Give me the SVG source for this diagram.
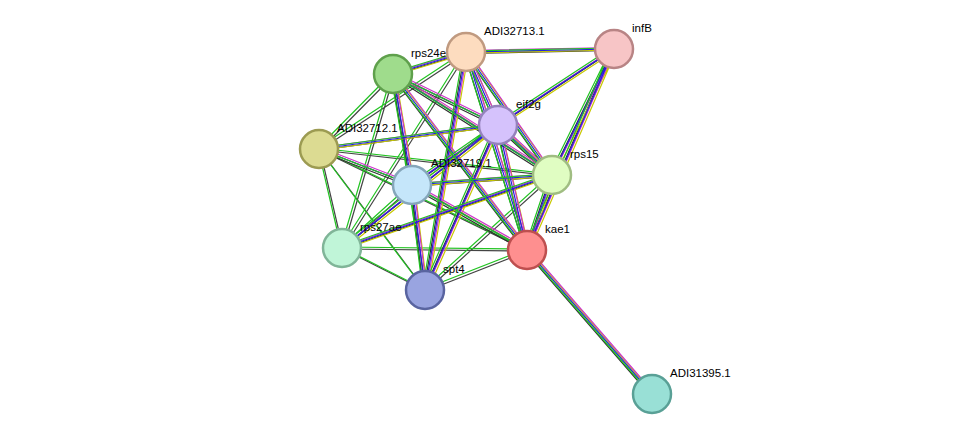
<svg xmlns="http://www.w3.org/2000/svg" xmlns:xlink="http://www.w3.org/1999/xlink" width="975" height="440" viewBox="0 0 975 440">
<style>
.n{stroke-width:2.5}
.t{font-family:"Liberation Sans",Arial,sans-serif;font-size:11.5px;fill:#000}
.e{fill:none;stroke-width:1.2}
</style>
<defs>
<path id="D" d="M393,74L466,52M393,74L498,125M393,74L552,175M393,74L527,250M466,52L498,125M466,52L552,175M466,52L527,250M466,52L614,49M614,49L498,125M614,49L552,175M614,49L527,250M498,125L552,175M498,125L527,250M498,125L412,185M498,125L319,149M552,175L527,250M412,185L425,290M412,185L552,175M412,185L527,250M319,149L412,185M393,74L412,185M527,250L652,394M425,290L466,52M425,290L498,125M342,248L552,175M342,248L498,125"/>
<path id="S" d="M319,149L393,74M319,149L342,248M319,149L425,290M319,149L527,250M319,149L552,175M342,248L425,290M342,248L527,250M342,248L412,185M425,290L527,250M393,74L425,290M393,74L342,248M425,290L552,175M342,248L466,52M319,149L466,52"/>
</defs>
<rect width="975" height="440" fill="#fff"/>
<g id="connectors">
<use xlink:href="#S" class="e" stroke="#444444" transform="translate(1,1)"/>
<use xlink:href="#S" class="e" stroke="#22c322" transform="translate(-1,-1)"/>
<use xlink:href="#D" class="e" stroke="#333333" transform="translate(-1.5,1.5)"/>
<use xlink:href="#D" class="e" stroke="#c8c800" transform="translate(2.5,1)"/>
<use xlink:href="#D" class="e" stroke="#cc33cc" transform="translate(1.5,-1.5)"/>
<use xlink:href="#D" class="e" stroke="#2222dd" transform="translate(0,0)"/>
<use xlink:href="#D" class="e" stroke="#22c322" transform="translate(-2.5,-1)"/>
</g>
<g id="rps24e"><circle class="n" cx="393" cy="74" r="19" fill="#9fdc8c" stroke="#5fa04c"/><text class="t" x="411" y="57">rps24e</text></g>
<g id="ADI32713.1"><circle class="n" cx="466" cy="52" r="19" fill="#fddcbf" stroke="#c09a80"/><text class="t" x="484" y="35">ADI32713.1</text></g>
<g id="infB"><circle class="n" cx="614" cy="49" r="19" fill="#f7c5c6" stroke="#b88485"/><text class="t" x="632" y="32">infB</text></g>
<g id="eif2g"><circle class="n" cx="498" cy="125" r="19" fill="#d5c2fc" stroke="#9582bc"/><text class="t" x="516" y="108">eif2g</text></g>
<g id="ADI32712.1"><circle class="n" cx="319" cy="149" r="19" fill="#dcdb92" stroke="#9c9b52"/><text class="t" x="337" y="132">ADI32712.1</text></g>
<g id="ADI32719.1"><circle class="n" cx="412" cy="185" r="19" fill="#c5e6fa" stroke="#85a6ba"/><text class="t" x="431" y="167">ADI32719.1</text></g>
<g id="rps15"><circle class="n" cx="552" cy="175" r="19" fill="#e0fdc2" stroke="#a0bd82"/><text class="t" x="570" y="158">rps15</text></g>
<g id="rps27ae"><circle class="n" cx="342" cy="248" r="19" fill="#c0f5d8" stroke="#80b598"/><text class="t" x="360" y="231">rps27ae</text></g>
<g id="kae1"><circle class="n" cx="527" cy="250" r="19" fill="#fe8f8f" stroke="#be4f4f"/><text class="t" x="545" y="233">kae1</text></g>
<g id="spt4"><circle class="n" cx="425" cy="290" r="19" fill="#99a4e0" stroke="#5964a0"/><text class="t" x="443" y="273">spt4</text></g>
<g id="ADI31395.1"><circle class="n" cx="652" cy="394" r="19" fill="#99e0d6" stroke="#59a096"/><text class="t" x="670" y="377">ADI31395.1</text></g>
</svg>
